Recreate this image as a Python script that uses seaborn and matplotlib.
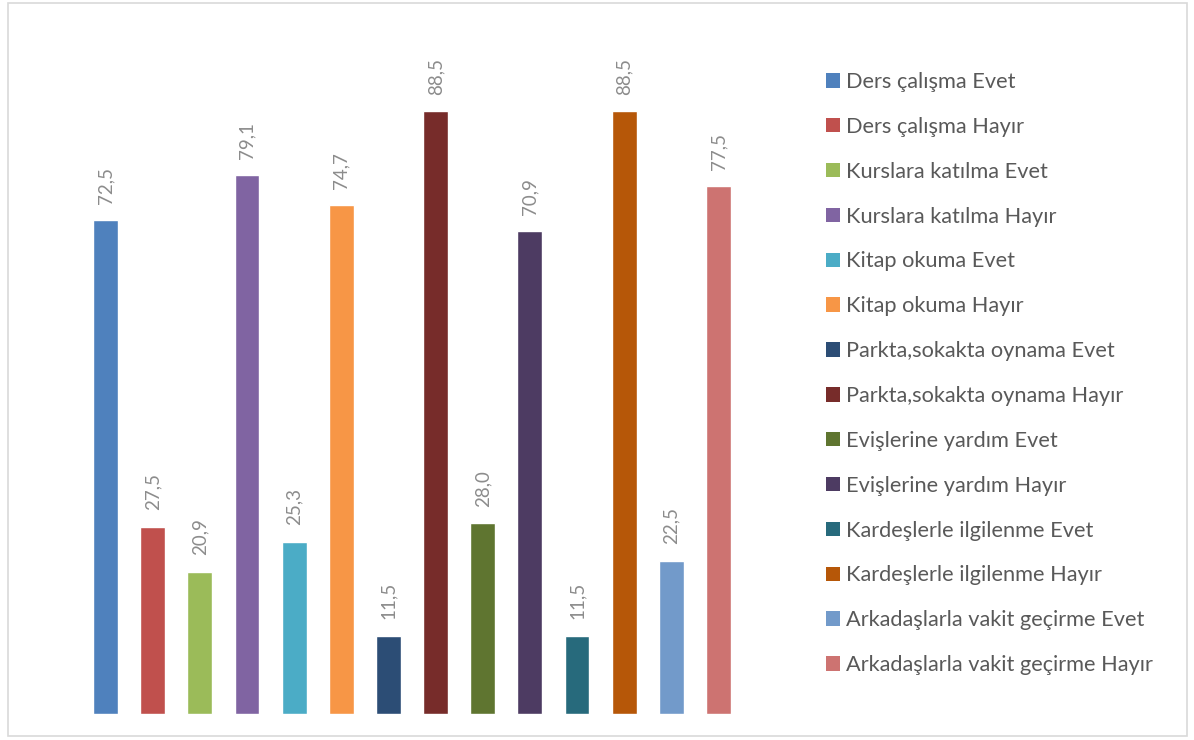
import matplotlib
matplotlib.use("Agg")
import matplotlib.pyplot as plt
import seaborn as sns
import pandas as pd
from matplotlib.patches import Rectangle, Patch

series = [
    "Ders çalışma Evet", "Ders çalışma Hayır",
    "Kurslara katılma Evet", "Kurslara katılma Hayır",
    "Kitap okuma Evet", "Kitap okuma Hayır",
    "Parkta,sokakta oynama Evet", "Parkta,sokakta oynama Hayır",
    "Evişlerine yardım Evet", "Evişlerine yardım Hayır",
    "Kardeşlerle ilgilenme Evet", "Kardeşlerle ilgilenme Hayır",
    "Arkadaşlarla vakit geçirme Evet", "Arkadaşlarla vakit geçirme Hayır",
]
values = [72.5, 27.5, 20.9, 79.1, 25.3, 74.7, 11.5, 88.5, 28.0, 70.9, 11.5, 88.5, 22.5, 77.5]
colors = ["#4F81BD", "#C0504D", "#9BBB59", "#8064A2", "#4BACC6", "#F79646", "#2C4D75",
          "#772C2A", "#5F7530", "#4D3B62", "#276A7C", "#B65708", "#729ACA", "#CD7371"]

sns.set_style("white")
plt.rcParams["font.family"] = ["Lato", "DejaVu Sans"]

df = pd.DataFrame({"seri": series, "deger": values})

fig = plt.figure(figsize=(11.94, 7.40), dpi=100)
ax = fig.add_axes([82 / 1194, 26 / 740, 660 / 1194, 681 / 740])
sns.barplot(data=df, x="seri", y="deger", hue="seri", palette=colors,
            dodge=False, width=0.53, legend=False, ax=ax, saturation=1)
ax.set_ylim(0, 100)
ax.set_xlim(-0.5, len(series) - 0.5)
ax.axis("off")

for i, v in enumerate(values):
    ax.annotate(f"{v:.1f}".replace(".", ","), (i, v), xytext=(0, 12),
                textcoords="offset points", rotation=90, ha="center", va="bottom",
                fontsize=13.5, color="#8c8c8c")

handles = [Patch(facecolor=c, edgecolor="none") for c in colors]
fig.legend(handles, series, loc="upper left",
           bbox_to_anchor=(826 / 1194, 1 - 72 / 740), frameon=False,
           fontsize=15.7, labelcolor="#595959", handlelength=0.64, handleheight=0.64,
           handletextpad=0.3, labelspacing=1.14, borderpad=0, borderaxespad=0)

fig.patches.append(Rectangle((8 / 1194, 4 / 740), 1179 / 1194, 733 / 740,
                             transform=fig.transFigure, fill=False,
                             edgecolor="#d9d9d9", linewidth=1.2))

fig.savefig("out.png", dpi=100)
